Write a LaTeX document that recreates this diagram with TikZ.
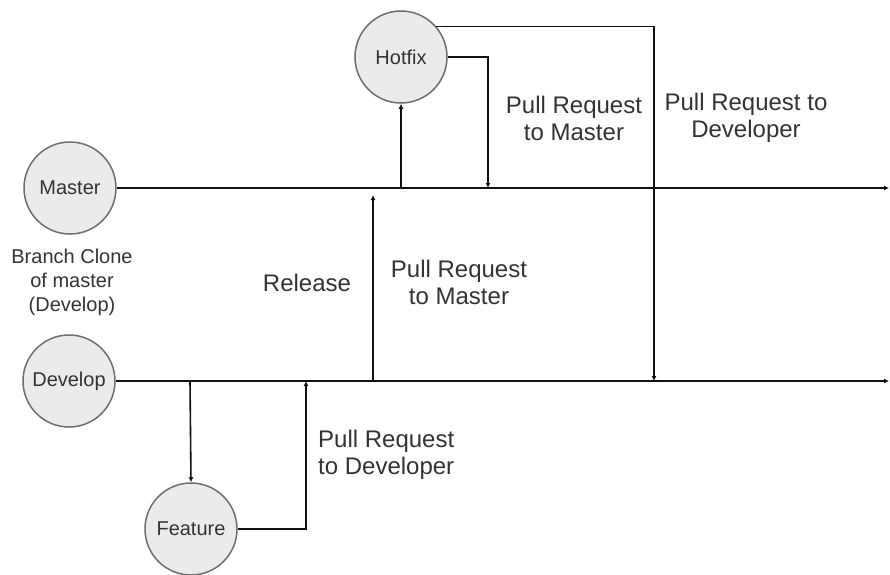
\documentclass[tikz,border=0pt]{standalone}
\usepackage{fontspec}
\setmainfont{Liberation Sans}
\usetikzlibrary{arrows.meta}
\definecolor{ink}{HTML}{111111}
\definecolor{txt}{HTML}{333333}
\definecolor{disc}{HTML}{EBEBEB}
\definecolor{rim}{HTML}{6E6E6E}
\tikzset{
  branch/.style={circle, draw=rim, line width=1.5pt, fill=disc, minimum size=92pt,
    inner sep=0pt, text=txt, font=\fontsize{20}{24}\selectfont},
  flow/.style={draw=ink, line width=1.6pt, -{Latex[length=5pt,width=5pt]}},
  plain/.style={draw=ink, line width=1.6pt},
  biglabel/.style={text=txt, align=center, inner sep=0pt, font=\fontsize{24}{27}\selectfont},
  smalllabel/.style={text=txt, align=center, inner sep=0pt, font=\fontsize{20}{24}\selectfont}
}
\begin{document}
\begin{tikzpicture}[x=1pt,y=-1pt]
  \useasboundingbox (0,0) rectangle (890,574);

  % branch nodes
  \node[branch] (master)  at (70,188)  {Master};
  \node[branch] (develop) at (69,381)  {Develop};
  \node[branch] (hotfix)  at (401,57)  {Hotfix};
  \node[branch] (feature) at (191,529) {Feature};

  % end points of the two main lines and the branch joints
  \coordinate (mEnd) at (889,188);
  \coordinate (dEnd) at (889,381);
  \coordinate (hOut) at (401,188);
  \coordinate (hIn)  at (488,188);
  \coordinate (rTop) at (373,195);
  \coordinate (rBot) at (373,381);
  \coordinate (fOut) at (190,381);
  \coordinate (fIn)  at (306,381);
  \coordinate (hDev) at (654,381);

  % main lines
  \draw[flow] (master.east) -- (mEnd);
  \draw[flow] (develop.east) -- (dEnd);

  % hotfix branch and its pull requests
  \draw[flow] (hOut) -- (hotfix.south);
  \draw[flow] (hotfix.east) -| (hIn);
  \draw[flow] (hotfix.41) -| (hDev);

  % release
  \draw[flow] (rBot) -- (rTop);

  % feature branch
  \draw[flow] (fOut) -- (feature.north);
  \draw[flow] (feature.east) -| (fIn);

  % labels
  \node[smalllabel] (clone) at (72,282) {Branch Clone\\of master\\(Develop)};
  \node[biglabel] (rel) at (307,283) {Release};
  \node[biglabel] (prm1) at (459,282) {Pull Request\\to Master};
  \node[biglabel] (prm2) at (574,118) {Pull Request\\to Master};
  \node[biglabel] (prd1) at (746,118) {Pull Request to\\Developer};
  \node[biglabel, align=left, anchor=west] (prd2) at (318,455) {Pull Request\\to Developer};
\end{tikzpicture}
\end{document}
